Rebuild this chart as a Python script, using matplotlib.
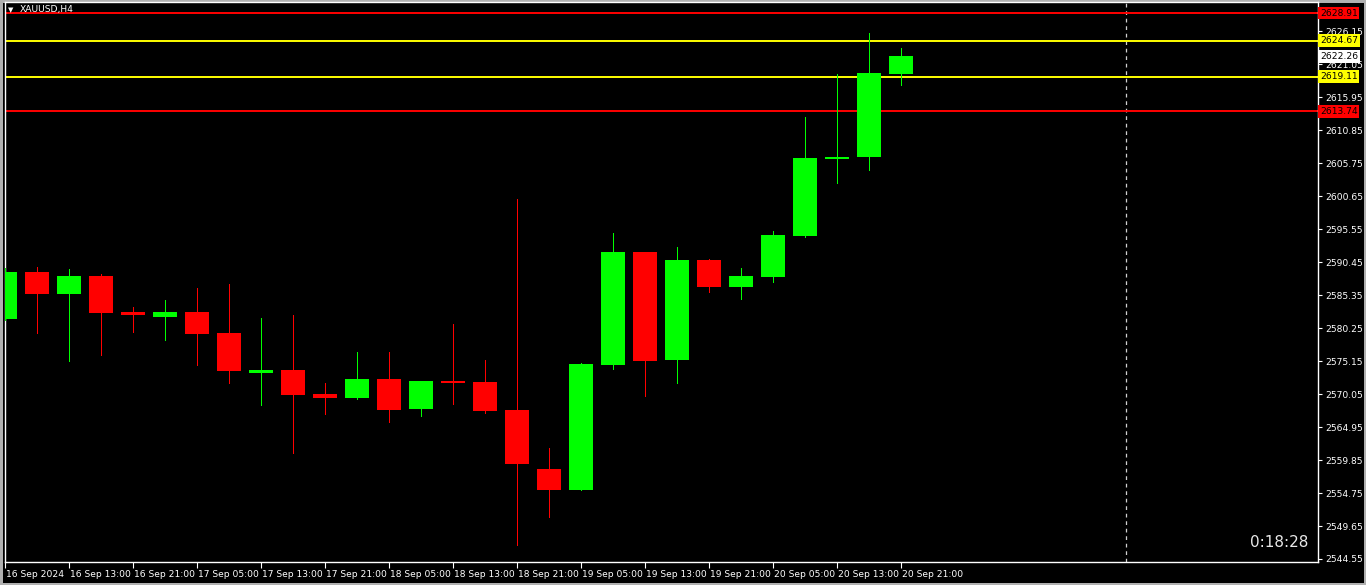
import matplotlib
matplotlib.use("Agg")
import matplotlib.pyplot as plt
import matplotlib.transforms as mtransforms
import numpy as np

symbol = "XAUUSD,H4"
timer = "0:18:28"

# H4 candles, 16 Sep 05:00 .. 20 Sep 21:00
opens = [2581.64, 2588.91, 2585.51, 2588.29, 2582.72, 2582.00, 2582.72, 2579.48,
         2573.34, 2573.76, 2570.05, 2569.43, 2572.37, 2567.73, 2572.06, 2571.91,
         2567.58, 2558.46, 2555.26, 2574.53, 2592.00, 2575.30, 2590.76, 2586.59,
         2588.13, 2594.47, 2606.37, 2606.72, 2619.55]
highs = [2589.52, 2589.72, 2589.37, 2588.60, 2583.50, 2584.58, 2586.43, 2587.05,
         2581.80, 2582.26, 2571.75, 2576.54, 2576.54, 2572.10, 2580.87, 2575.30,
         2600.19, 2561.70, 2574.80, 2594.93, 2592.05, 2592.77, 2590.92, 2589.52,
         2595.24, 2612.86, 2619.51, 2625.84, 2623.52]
lows = [2581.49, 2579.52, 2575.20, 2576.12, 2579.68, 2578.44, 2574.58, 2571.80,
        2568.40, 2560.93, 2567.01, 2569.35, 2565.77, 2566.65, 2568.55, 2567.11,
        2546.71, 2551.09, 2555.20, 2573.91, 2569.79, 2571.75, 2585.81, 2584.73,
        2587.36, 2594.31, 2602.71, 2604.72, 2617.85]
closes = [2588.91, 2585.51, 2588.29, 2582.62, 2582.31, 2582.72, 2579.37, 2573.65,
          2573.76, 2569.90, 2569.48, 2572.37, 2567.58, 2572.06, 2571.75, 2567.42,
          2559.23, 2555.26, 2574.69, 2592.00, 2575.15, 2590.76, 2586.59, 2588.29,
          2594.62, 2606.52, 2606.68, 2619.66, 2622.26]

time_labels = ["16 Sep 2024", "16 Sep 13:00", "16 Sep 21:00", "17 Sep 05:00",
               "17 Sep 13:00", "17 Sep 21:00", "18 Sep 05:00", "18 Sep 13:00",
               "18 Sep 21:00", "19 Sep 05:00", "19 Sep 13:00", "19 Sep 21:00",
               "20 Sep 05:00", "20 Sep 13:00", "20 Sep 21:00"]

price_ticks = [2544.55, 2549.65, 2554.75, 2559.85, 2564.95, 2570.05, 2575.15,
               2580.25, 2585.35, 2590.45, 2595.55, 2600.65, 2605.75, 2610.85,
               2615.95, 2621.05, 2626.15]

red_levels = [2628.91, 2613.74]
yellow_levels = [2624.67, 2619.11]
last_price = 2622.26

W, H = 1366, 585
fig = plt.figure(figsize=(W / 100, H / 100), dpi=100, facecolor="black")
fig.patch.set_edgecolor("#b0b0b0")
fig.patch.set_linewidth(2.5)

left, right, top, bottom = 5, 1318, 2, 562
ax = fig.add_axes([left / W, 1 - bottom / H, (right - left) / W, (bottom - top) / H])
ax.set_facecolor("black")

o = np.array(opens)
h = np.array(highs)
l = np.array(lows)
c = np.array(closes)
x = np.arange(len(o))
up = c >= o
cols = np.where(up, "#00ff00", "#ff0000")

ax.vlines(x, l, h, colors=cols, linewidth=0.6, antialiased=False, zorder=3)
ax.bar(x, np.maximum(np.abs(c - o), 0.25), bottom=np.minimum(o, c), width=0.78,
       color=cols, linewidth=0, zorder=4)

for lv in red_levels:
    ax.axhline(lv, color="#ff0000", linewidth=1.4, zorder=2)
for lv in yellow_levels:
    ax.axhline(lv, color="#ffff00", linewidth=1.4, zorder=2)

ax.axvline(35.03, color="#d0d0d0", linewidth=0.9, linestyle=(0, (3, 3)), zorder=1)

ax.set_xlim(0, (right - left) / 32)
ax.set_ylim(2544.55 - 3 * 0.15455, 2544.55 + 557 * 0.15455)

for s in ax.spines.values():
    s.set_color("white")
    s.set_linewidth(1)

ax.yaxis.tick_right()
ax.set_yticks(price_ticks)
ax.set_yticklabels([f"{p:.2f}" for p in price_ticks])
ax.tick_params(axis="y", colors="white", labelsize=6.6, length=3, width=0.8,
               pad=2, direction="out")

ax.set_xticks(np.arange(0, 2 * len(time_labels), 2))
ax.set_xticklabels(time_labels, ha="left")
ax.tick_params(axis="x", colors="white", labelsize=6.6, length=4, width=0.8,
               pad=2, direction="out")
for lab in ax.get_xticklabels():
    lab.set_transform(lab.get_transform() + mtransforms.ScaledTranslation(1 / 100, 0, fig.dpi_scale_trans))

trans = mtransforms.blended_transform_factory(ax.transAxes, ax.transData)
boxes = [(red_levels[0], "#ff0000"), (yellow_levels[0], "#ffff00"),
         (last_price, "#ffffff"), (yellow_levels[1], "#ffff00"), (red_levels[1], "#ff0000")]
for lv, bg in boxes:
    ax.text(1.0014, lv, f"{lv:.2f}", transform=trans, fontsize=6.6, color="black",
            va="center", ha="left", clip_on=False, zorder=10,
            bbox=dict(boxstyle="square,pad=0.2", facecolor=bg, edgecolor="none"))

ax.text(0.0025, 0.99, "\u25bc", transform=ax.transAxes, fontsize=5, color="white",
        va="top", ha="left", zorder=10)
ax.text(0.011, 0.994, symbol, transform=ax.transAxes, fontsize=6.6, color="white",
        va="top", ha="left", zorder=10)

ax.text(0.9924, 0.034, timer, transform=ax.transAxes, fontsize=11, color="#e8e8e8",
        va="center", ha="right", zorder=10)

fig.savefig("out.png", dpi=100, facecolor=fig.get_facecolor(), edgecolor=fig.get_edgecolor())
